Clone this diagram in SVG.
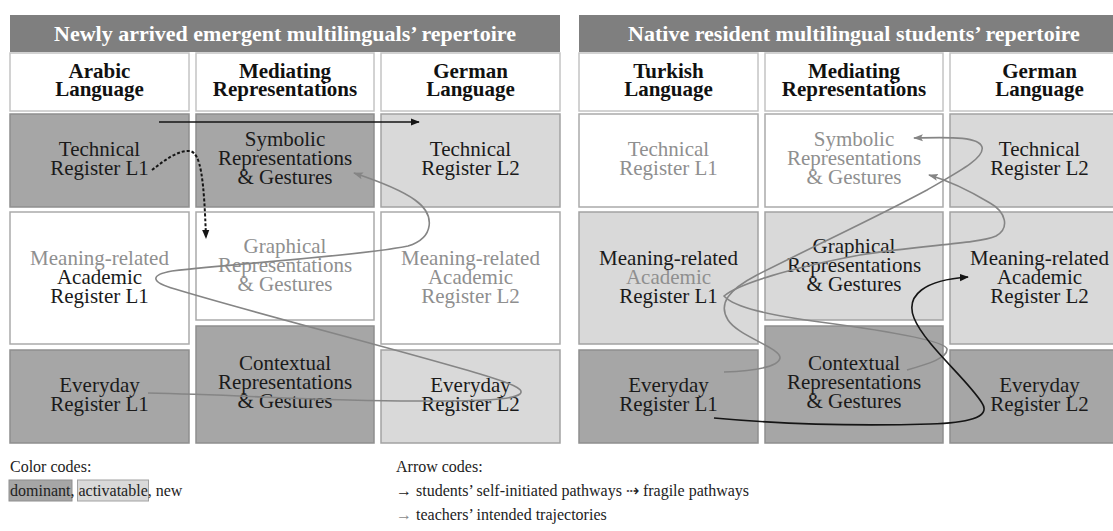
<svg xmlns="http://www.w3.org/2000/svg" width="1113" height="531" viewBox="0 0 1113 531">
<style>
text{font-family:"Liberation Serif","Times New Roman",serif;}
.cell text{font-size:21px;text-anchor:middle;fill:#1a1a1a;}
.hdr text{font-size:21px;font-weight:bold;text-anchor:middle;fill:#111;}
.title text{font-size:22px;font-weight:bold;text-anchor:middle;fill:#fff;}
.title rect{fill:#7f7f7f;}
.hdr rect{fill:#fff;stroke:#c4c4c4;stroke-width:1.5;}
.dom{fill:#a6a6a6;stroke:#8e8e8e;stroke-width:1.5;}
.act{fill:#d9d9d9;stroke:#a2a2a2;stroke-width:1.5;}
.new{fill:#fff;stroke:#aaaaaa;stroke-width:1.5;}
.g{fill:#8f8f8f !important;}
.leg{font-size:16px;fill:#222;}
.blk{fill:none;stroke:#151515;stroke-width:1.6;}
.frag{fill:none;stroke:#151515;stroke-width:2;stroke-dasharray:3 2;}
.tch{fill:none;stroke:#858585;stroke-width:1.6;}
</style>
<defs>
<marker id="ahB" viewBox="0 0 10 10" refX="9" refY="5" markerWidth="9" markerHeight="9" markerUnits="userSpaceOnUse" orient="auto"><path d="M0,1 L10,5 L0,9 z" fill="#151515"/></marker>
<marker id="ahG" viewBox="0 0 10 10" refX="9" refY="5" markerWidth="10" markerHeight="10" markerUnits="userSpaceOnUse" orient="auto"><path d="M0,1.5 L10,5 L0,8.5 L2,5 z" fill="#858585"/></marker>
</defs>
<rect width="1113" height="531" fill="#fff"/>

<!-- LEFT PANEL -->
<g id="L-title" class="title"><rect x="10" y="15" width="550" height="37"/><text x="285" y="41">Newly arrived emergent multilinguals’ repertoire</text></g>
<g id="L-h1" class="hdr"><rect x="10" y="53" width="179" height="58"/><text><tspan x="99.5" y="78">Arabic</tspan><tspan x="99.5" y="96">Language</tspan></text></g>
<g id="L-h2" class="hdr"><rect x="196" y="53" width="178" height="58"/><text><tspan x="285" y="78">Mediating</tspan><tspan x="285" y="96">Representations</tspan></text></g>
<g id="L-h3" class="hdr"><rect x="381" y="53" width="179" height="58"/><text><tspan x="470.5" y="78">German</tspan><tspan x="470.5" y="96">Language</tspan></text></g>

<g id="L-techL1" class="cell"><rect class="dom" x="10" y="114" width="179" height="93"/><text><tspan x="99.5" y="156">Technical</tspan><tspan x="99.5" y="175">Register L1</tspan></text></g>
<g id="L-symbolic" class="cell"><rect class="dom" x="196" y="114" width="178" height="93"/><text><tspan x="285" y="146">Symbolic</tspan><tspan x="285" y="165">Representations</tspan><tspan x="285" y="184">&amp; Gestures</tspan></text></g>
<g id="L-techL2" class="cell"><rect class="act" x="381" y="114" width="179" height="93"/><text><tspan x="470.5" y="156">Technical</tspan><tspan x="470.5" y="175">Register L2</tspan></text></g>

<g id="L-acadL1" class="cell"><rect class="new" x="10" y="212" width="179" height="132"/><text><tspan class="g" x="99.5" y="265">Meaning-related</tspan><tspan x="99.5" y="284">Academic</tspan><tspan x="99.5" y="303">Register L1</tspan></text></g>
<g id="L-graphical" class="cell"><rect class="new" x="196" y="212" width="178" height="108"/><text class="g"><tspan x="285" y="253">Graphical</tspan><tspan x="285" y="272">Representations</tspan><tspan x="285" y="291">&amp; Gestures</tspan></text></g>
<g id="L-acadL2" class="cell"><rect class="new" x="381" y="212" width="179" height="132"/><text class="g"><tspan x="470.5" y="265">Meaning-related</tspan><tspan x="470.5" y="284">Academic</tspan><tspan x="470.5" y="303">Register L2</tspan></text></g>

<g id="L-everyL1" class="cell"><rect class="dom" x="10" y="350" width="179" height="93"/><text><tspan x="99.5" y="392">Everyday</tspan><tspan x="99.5" y="411">Register L1</tspan></text></g>
<g id="L-contextual" class="cell"><rect class="dom" x="196" y="326" width="178" height="117"/><text><tspan x="285" y="370">Contextual</tspan><tspan x="285" y="389">Representations</tspan><tspan x="285" y="408">&amp; Gestures</tspan></text></g>
<g id="L-everyL2" class="cell"><rect class="act" x="381" y="350" width="179" height="93"/><text><tspan x="470.5" y="392">Everyday</tspan><tspan x="470.5" y="411">Register L2</tspan></text></g>

<!-- RIGHT PANEL -->
<g id="R-title" class="title"><rect x="579" y="15" width="560" height="37"/><text x="854" y="41">Native resident multilingual students’ repertoire</text></g>
<g id="R-h1" class="hdr"><rect x="579" y="53" width="179" height="58"/><text><tspan x="668.5" y="78">Turkish</tspan><tspan x="668.5" y="96">Language</tspan></text></g>
<g id="R-h2" class="hdr"><rect x="765" y="53" width="178" height="58"/><text><tspan x="854" y="78">Mediating</tspan><tspan x="854" y="96">Representations</tspan></text></g>
<g id="R-h3" class="hdr"><rect x="950" y="53" width="179" height="58"/><text><tspan x="1039.5" y="78">German</tspan><tspan x="1039.5" y="96">Language</tspan></text></g>

<g id="R-techL1" class="cell"><rect class="new" x="579" y="114" width="179" height="93"/><text class="g"><tspan x="668.5" y="156">Technical</tspan><tspan x="668.5" y="175">Register L1</tspan></text></g>
<g id="R-symbolic" class="cell"><rect class="new" x="765" y="114" width="178" height="93"/><text class="g"><tspan x="854" y="146">Symbolic</tspan><tspan x="854" y="165">Representations</tspan><tspan x="854" y="184">&amp; Gestures</tspan></text></g>
<g id="R-techL2" class="cell"><rect class="act" x="950" y="114" width="179" height="93"/><text><tspan x="1039.5" y="156">Technical</tspan><tspan x="1039.5" y="175">Register L2</tspan></text></g>

<g id="R-acadL1" class="cell"><rect class="act" x="579" y="212" width="179" height="132"/><text><tspan x="668.5" y="265">Meaning-related</tspan><tspan class="g" x="668.5" y="284">Academic</tspan><tspan x="668.5" y="303">Register L1</tspan></text></g>
<g id="R-graphical" class="cell"><rect class="act" x="765" y="212" width="178" height="108"/><text><tspan x="854" y="253">Graphical</tspan><tspan x="854" y="272">Representations</tspan><tspan x="854" y="291">&amp; Gestures</tspan></text></g>
<g id="R-acadL2" class="cell"><rect class="act" x="950" y="212" width="179" height="132"/><text><tspan x="1039.5" y="265">Meaning-related</tspan><tspan x="1039.5" y="284">Academic</tspan><tspan x="1039.5" y="303">Register L2</tspan></text></g>

<g id="R-everyL1" class="cell"><rect class="dom" x="579" y="350" width="179" height="93"/><text><tspan x="668.5" y="392">Everyday</tspan><tspan x="668.5" y="411">Register L1</tspan></text></g>
<g id="R-contextual" class="cell"><rect class="dom" x="765" y="326" width="178" height="117"/><text><tspan x="854" y="370">Contextual</tspan><tspan x="854" y="389">Representations</tspan><tspan x="854" y="408">&amp; Gestures</tspan></text></g>
<g id="R-everyL2" class="cell"><rect class="dom" x="950" y="350" width="179" height="93"/><text><tspan x="1039.5" y="392">Everyday</tspan><tspan x="1039.5" y="411">Register L2</tspan></text></g>

<!-- CONNECTORS -->
<g id="connectors">
<path class="blk" d="M159 122 L419 122" marker-end="url(#ahB)"/>
<path class="frag" d="M152 170 C165 160,178 150,190 151 C201 153,204 180,206 238" marker-end="url(#ahB)"/>
<path class="tch" d="M148 393 C250 395,330 402,430 401 C480 401,512 400,520 394 C526 388,505 382,480 374 C400 350,250 312,175 289 C150 282,150 275,172 271 C250 262,360 256,408 246 C434 238,436 215,415 200 C400 189,375 180,354 173" marker-end="url(#ahG)"/>
<path class="tch" d="M724 372 C750 371,778 368,780 358 C781 348,738 336,728 320 C718 304,728 290,757 275 C810 248,875 218,927 190 C958 172,985 158,982 147 C979 137,955 137,914 138" marker-end="url(#ahG)"/>
<path class="tch" d="M907 370 C928 364,948 358,947 349 C945 340,880 330,820 322 C770 315,735 308,724 296 C738 284,790 268,860 255 C920 245,978 244,996 236 C1010 228,1006 212,990 203 C970 191,950 181,929 175" marker-end="url(#ahG)"/>
<path class="blk" d="M714 418 C780 424,860 426,930 424 C965 423,992 418,982 403 C968 380,925 345,914 318 C905 295,925 280,968 277" marker-end="url(#ahB)"/>
</g>

<!-- LEGEND -->
<g id="legend-colors">
<text class="leg" x="10" y="472">Color codes:</text>
<rect x="9" y="480" width="63" height="21" fill="#a6a6a6" stroke="#8e8e8e" stroke-width="1"/>
<rect x="77.5" y="480" width="71" height="21" fill="#d9d9d9" stroke="#a2a2a2" stroke-width="1"/>
<text class="leg" x="10" y="496">dominant, activatable, new</text>
</g>
<g id="legend-arrows">
<text class="leg" x="396" y="472">Arrow codes:</text>
<text class="leg" x="396" y="496">→ students’ self-initiated pathways ⇢ fragile pathways</text>
<text class="leg" x="396" y="520"><tspan fill="#8a8a8a">→</tspan> teachers’ intended trajectories</text>
</g>
</svg>
